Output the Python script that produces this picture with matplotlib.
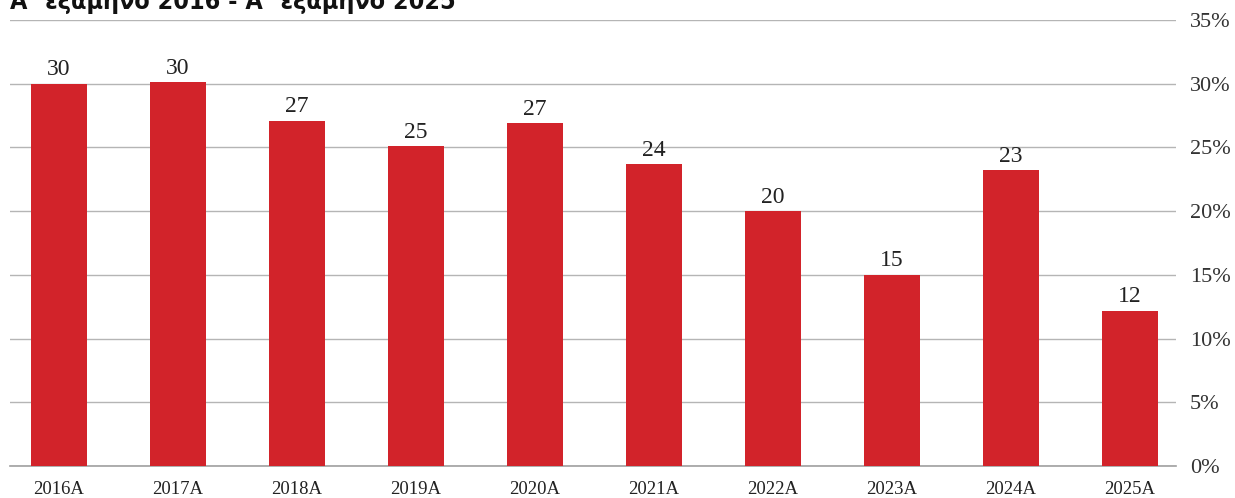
import matplotlib
matplotlib.use("Agg")
import matplotlib.pyplot as plt
import numpy as np

# data
years = ['2016A', '2017A', '2018A', '2019A', '2020A',
         '2021A', '2022A', '2023A', '2024A', '2025A']
values = [30.0, 30.1, 27.1, 25.1, 26.9, 23.7, 20.0, 15.0, 23.2, 12.2]
yticks = [0, 5, 10, 15, 20, 25, 30, 35]
title = "Α΄ εξάμηνο 2016 - Α΄ εξάμηνο 2025"

serif = 'Liberation Serif'
red = '#d2232a'

fig = plt.figure(figsize=(12.35, 4.98), dpi=100)
ax = fig.add_axes([10/1235, 1 - 466/498, (1176-10)/1235, (466-20)/498])

x = np.arange(len(years))
bars = ax.bar(x, values, width=0.47, color=red, zorder=3)

# data labels, rounded like the original
for xi, v in zip(x, values):
    ax.annotate(f"{v:.0f}", (xi, v), xytext=(0, 2.5), textcoords='offset points',
                ha='center', va='bottom', fontsize=17, family=serif, color='#222222')

ax.set_ylim(0, 35)
ax.set_xlim(-0.41, 9.39)
ax.set_yticks(yticks)
ax.set_yticklabels([f"{t}%" for t in yticks], family=serif, fontsize=16, color='#333333')
ax.yaxis.tick_right()
ax.tick_params(axis='y', length=0, pad=10)
ax.set_xticks(x)
ax.set_xticklabels(years, family=serif, fontsize=13.5, color='#222222')
ax.tick_params(axis='x', length=0, pad=11)

ax.grid(axis='y', color='#b5b5b5', linewidth=1, zorder=0)
for s in ['top', 'right', 'left']:
    ax.spines[s].set_visible(False)
ax.spines['bottom'].set_color('#a0a0a0')
ax.spines['bottom'].set_linewidth(1.2)

# title, partly cut off at the top like in the source image
fig.text(10/1235, 1 - 9/498, title, ha='left', va='baseline',
         fontsize=18, fontweight='bold', fontstretch='condensed',
         family='DejaVu Sans', color='#111111')

fig.savefig('out.png', dpi=100)
